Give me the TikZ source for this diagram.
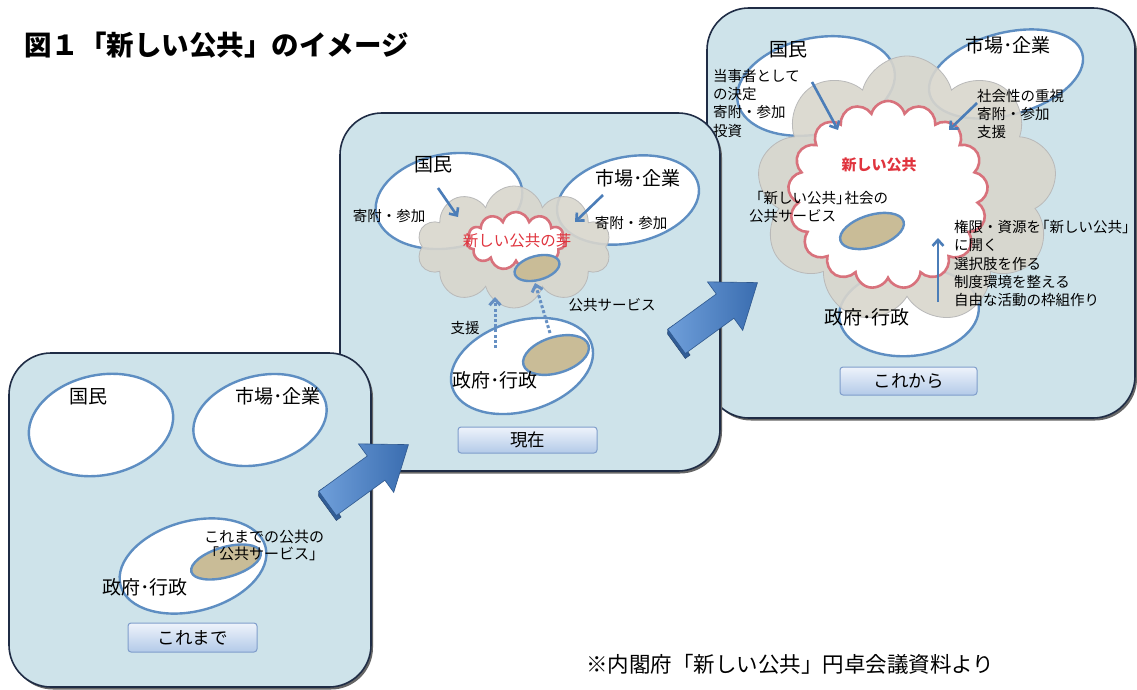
\documentclass[tikz,border=0pt]{standalone}
\usepackage{fontspec}
\newfontfamily\jp{Noto Sans CJK JP}
\usetikzlibrary{shapes.geometric,shapes.symbols,arrows.meta,shadows}
\newcommand\jpfs[2]{\fontsize{#1}{#2}\selectfont}
\definecolor{panelfill}{HTML}{CEE3EA}
\definecolor{panelline}{HTML}{1F2C45}
\definecolor{ellline}{HTML}{5E8EC2}
\definecolor{tanfill}{HTML}{C9BC97}
\definecolor{cloudgray}{HTML}{D9D6CD}
\definecolor{cloudline}{HTML}{B9B9B9}
\definecolor{redline}{HTML}{D8727C}
\definecolor{redtext}{HTML}{E0343E}
\definecolor{arrowblue}{HTML}{4B7DB8}
\definecolor{btntop}{HTML}{EEF3FB}
\definecolor{btnbot}{HTML}{B3CAE8}
\definecolor{btnline}{HTML}{7F9DCB}
\definecolor{bigA}{HTML}{6F9FDA}
\definecolor{bigB}{HTML}{3A6DB0}
\tikzset{
  panel/.style={draw=panelline, line width=1.6pt, fill=panelfill, rounded corners=42pt, inner sep=0pt,
    drop shadow={shadow xshift=2pt, shadow yshift=-2.5pt, fill=black!60, opacity=1}},
  oval/.style={ellipse, draw=ellline, line width=2.4pt, fill=white, inner sep=0pt},
  tanoval/.style={ellipse, draw=ellline, line width=2.4pt, fill=tanfill, inner sep=0pt},
  graycloud/.style={cloud, cloud ignores aspect, draw=cloudline, line width=0.8pt, fill=cloudgray, fill opacity=0.9, inner sep=0pt},
  redcloud/.style={cloud, cloud ignores aspect, draw=redline, line width=2.6pt, fill=white, inner sep=0pt},
  lbl/.style={font=\jp\jpfs{19}{22}, inner sep=0pt},
  sml/.style={font=\jp\jpfs{14.5}{18.3}, inner sep=0pt, align=left},
  redlbl/.style={font=\jp\bfseries\jpfs{15}{18}, text=redtext, inner sep=0pt},
  btn/.style={draw=btnline, line width=1pt, rounded corners=3pt, top color=btntop, bottom color=btnbot,
    font=\jp\jpfs{17.5}{20}, inner sep=0pt},
  parrow/.style={draw=arrowblue, line width=2.6pt, -{Straight Barb[length=6pt,width=11pt]}},
  darrow/.style={parrow, draw=arrowblue!85!white, line width=3pt, dash pattern=on 3pt off 2.2pt},
  bigarrow/.style={left color=bigA, right color=bigB, draw=bigB!80!black, line width=0.6pt},
  bigtail/.style={fill=bigB!85!black, draw=bigB!60!black, line width=0.4pt}
}
\begin{document}
\begin{tikzpicture}[x=1pt,y=-1pt]
\useasboundingbox (0,0) rectangle (1137,690);
\fill[white] (0,0) rectangle (1137,690);

% title and source
\node[font=\jp\bfseries\jpfs{27.5}{30}, anchor=west, inner sep=0pt] (title) at (24,45) {図１「新しい公共」のイメージ};
\node[font=\jp\jpfs{21.5}{24}, anchor=west, inner sep=0pt] (source) at (586,664) {※内閣府「新しい公共」円卓会議資料より};

% ---------------- panel 3 ----------------
\node[panel, minimum width=428pt, minimum height=410pt] (p3) at (921,213) {};
\node[oval, minimum width=160pt, minimum height=96pt, rotate=12] (p3nm) at (816,86) {};
\node[oval, minimum width=158pt, minimum height=82pt, rotate=15] (p3mk) at (1006,74) {};
\node[oval, minimum width=140pt, minimum height=88pt, rotate=5] (p3gv) at (909,312) {};
\node[graycloud, cloud puffs=9, minimum width=300pt, minimum height=268pt] (p3gc) at (907,190) {};
\node[redcloud, cloud puffs=17, minimum width=200pt, minimum height=188pt] (p3rc) at (888,195) {};
\node[tanoval, minimum width=66pt, minimum height=32pt, rotate=17] (p3tan) at (872,231) {};
\node[lbl] (p3nmt) at (788,50) {国民};
\node[lbl] (p3mkt) at (1008,45) {市場･企業};
\node[sml, anchor=north west] (p3t1) at (713,69) {当事者として\\の決定\\寄附・参加\\投資};
\node[sml, anchor=north west] (p3t2) at (977,89) {社会性の重視\\寄附・参加\\支援};
\node[sml, anchor=north west] (p3t3) at (954,220) {権限・資源を\hspace{-6pt}「新しい公共」\\に開く\\選択肢を作る\\制度環境を整える\\自由な活動の枠組作り};
\node[sml, anchor=north west] (p3t4) at (749,191) {「新しい公共」\hspace{-6pt}社会の\\公共サービス};
\node[redlbl] (p3new) at (879,165) {新しい公共};
\node[lbl] (p3gvt) at (867,317) {政府･行政};
\node[btn, minimum width=137pt, minimum height=28pt] (p3btn) at (908.5,381) {これから};
\coordinate (a31s) at (812,82); \coordinate (a31e) at (838,130);
\coordinate (a32s) at (977,103); \coordinate (a32e) at (949,130);
\coordinate (a33s) at (938,302); \coordinate (a33e) at (938,238);
\draw[parrow] (a31s) -- (a31e);
\draw[parrow] (a32s) -- (a32e);
\draw[parrow] (a33s) -- (a33e);

% ---------------- panel 2 ----------------
\node[panel, minimum width=380pt, minimum height=358pt] (p2) at (530,292) {};
\node[oval, minimum width=148pt, minimum height=94pt, rotate=10] (p2nm) at (449,201) {};
\node[oval, minimum width=144pt, minimum height=86pt, rotate=12] (p2mk) at (628,200) {};
\node[oval, minimum width=146pt, minimum height=90pt, rotate=17] (p2gv) at (522,366) {};
\node[tanoval, minimum width=68pt, minimum height=36pt, rotate=17] (p2tan) at (556,355) {};
\node[graycloud, cloud puffs=10, minimum width=194pt, minimum height=122pt] (p2gc) at (514,247) {};
\node[redcloud, cloud puffs=11, minimum width=98pt, minimum height=58pt] (p2rc) at (516,241) {};
\node[tanoval, minimum width=46pt, minimum height=24pt, rotate=15] (p2tan2) at (537,268) {};
\node[lbl] (p2nmt) at (433,165) {国民};
\node[lbl] (p2mkt) at (638,178) {市場･企業};
\node[sml] (p2k1) at (389,216) {寄附・参加};
\node[sml] (p2k2) at (631,223) {寄附・参加};
\node[font=\jp\jpfs{15.5}{18}, text=redtext, inner sep=0pt] (p2new) at (517,241) {新しい公共の芽};
\node[sml] (p2sh) at (465,328) {支援};
\node[sml] (p2ps) at (612,305) {公共サービス};
\node[lbl] (p2gvt) at (495,380) {政府･行政};
\node[btn, minimum width=139pt, minimum height=26pt] (p2btn) at (527.5,440) {現在};
\coordinate (a21s) at (438,188); \coordinate (a21e) at (458,217);
\coordinate (a22s) at (603,195); \coordinate (a22e) at (575,222);
\coordinate (a23s) at (495,348); \coordinate (a23e) at (495,297);
\coordinate (a24s) at (550,333); \coordinate (a24e) at (535,283);
\draw[parrow] (a21s) -- (a21e);
\draw[parrow] (a22s) -- (a22e);
\draw[darrow] (a23s) -- (a23e);
\draw[darrow] (a24s) -- (a24e);

% big arrow 2
\begin{scope}[shift={(717,312)}, rotate=36]
\path[bigtail] (-50,-15) -- (-44,-15) -- (-47,-11) -- (-47,19) -- (-53,19) -- (-53,-11) -- cycle;
\path[bigarrow] (-50,-15) -- (10,-15) -- (10,-30) -- (50,0) -- (10,30) -- (10,15) -- (-50,15) -- cycle;
\end{scope}

% ---------------- panel 1 ----------------
\node[panel, minimum width=362pt, minimum height=334pt] (p1) at (190,520) {};
\node[oval, minimum width=146pt, minimum height=100pt, rotate=12] (p1nm) at (101,425) {};
\node[oval, minimum width=136pt, minimum height=88pt, rotate=15] (p1mk) at (260,420) {};
\node[oval, minimum width=150pt, minimum height=90pt, rotate=15] (p1gv) at (193,566) {};
\node[tanoval, minimum width=72pt, minimum height=30pt, rotate=16] (p1tan) at (226,562) {};
\node[lbl] (p1nmt) at (88,397) {国民};
\node[lbl] (p1mkt) at (278,396) {市場･企業};
\node[sml, font=\jp\jpfs{15}{17}, anchor=north west] (p1ps) at (204,530) {これまでの公共の\\「公共サービス」};
\node[lbl] (p1gvt) at (145,587) {政府･行政};
\node[btn, minimum width=129pt, minimum height=29pt] (p1btn) at (192.5,637.5) {これまで};

% big arrow 1
\begin{scope}[shift={(368,474)}, rotate=36]
\path[bigtail] (-50,-15) -- (-44,-15) -- (-47,-11) -- (-47,19) -- (-53,19) -- (-53,-11) -- cycle;
\path[bigarrow] (-50,-15) -- (10,-15) -- (10,-30) -- (50,0) -- (10,30) -- (10,15) -- (-50,15) -- cycle;
\end{scope}
\end{tikzpicture}
\end{document}
